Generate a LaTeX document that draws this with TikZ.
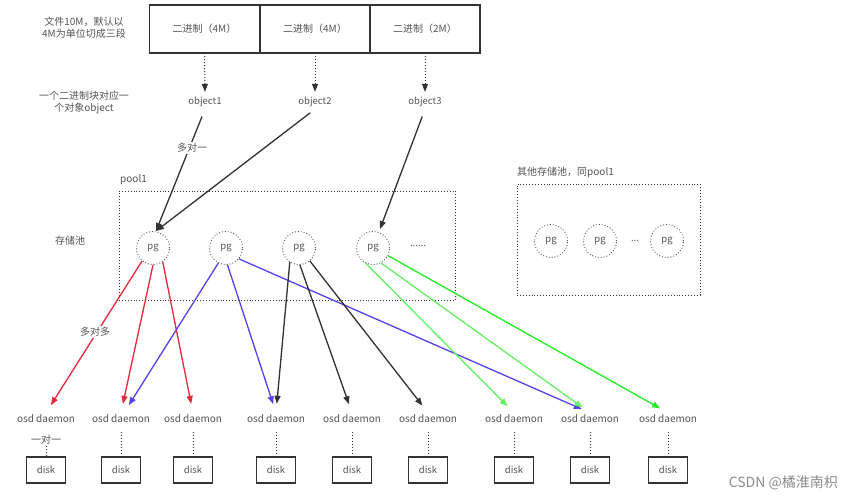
\documentclass[tikz,border=0pt]{standalone}
\usepackage{fontspec}
\setmainfont{Noto Sans CJK SC}
\usetikzlibrary{arrows.meta,calc}
\definecolor{txt}{HTML}{555555}
\definecolor{dk}{HTML}{333333}
\definecolor{rd}{HTML}{E8283C}
\definecolor{bl}{HTML}{5544EE}
\definecolor{gl}{HTML}{66F066}
\definecolor{gb}{HTML}{22EE22}
\tikzset{
  x=1pt,y=-1pt,
  lbl/.style={text=txt,font=\fontsize{10}{12}\selectfont,align=center,inner sep=1pt},
  obj/.style={text=txt,font=\fontsize{9.5}{11}\selectfont,inner sep=2pt},
  seg/.style={draw=dk,line width=1.3pt,minimum width=110pt,minimum height=48pt,outer sep=0pt,text=txt,font=\fontsize{10}{12}\selectfont},
  pgc/.style={circle,draw=txt,dotted,line width=0.9pt,minimum size=33pt,inner sep=0pt,text=txt,font=\fontsize{9.5}{11}\selectfont},
  poolbox/.style={draw=dk,dotted,line width=0.9pt,inner sep=0pt},
  osd/.style={text=txt,font=\fontsize{10}{12}\selectfont,inner sep=2pt},
  diskbox/.style={draw=dk,line width=1.2pt,minimum width=39pt,minimum height=26pt,inner sep=0pt,text=txt,font=\fontsize{9.5}{11}\selectfont},
  tip/.style={-{Triangle[length=8pt,width=6pt]}},
  dotarrow/.style={tip,draw=dk,dotted,line width=1pt},
  link/.style={tip,line width=1.3pt,shorten >=9pt},
  conn/.style={draw=dk,dotted,line width=1pt},
}
\begin{document}
\begin{tikzpicture}
\useasboundingbox[fill=white] (0,0) rectangle (852,501);
% file segments
\node[seg] (b1) at (204.5,29) {二进制（4M）};
\node[seg] (b2) at (315,29) {二进制（4M）};
\node[seg] (b3) at (425,29) {二进制（2M）};
\node[lbl] (t1) at (84,28) {文件10M，默认以\\4M为单位切成三段};
\node[lbl] (t2) at (84,102) {一个二进制块对应一\\个对象object};
% objects
\node[obj] (o1) at (205,102) {object1};
\node[obj] (o2) at (315,102) {object2};
\node[obj] (o3) at (425,102) {object3};
\draw[dotarrow,shorten >=3pt] (b1.south) -- (o1.north);
\draw[dotarrow,shorten >=3pt] (b2.south) -- (o2.north);
\draw[dotarrow,shorten >=3pt] (b3.south) -- (o3.north);
% pool1
\node[poolbox,minimum width=336pt,minimum height=109pt] (pool1) at (287,245.5) {};
\node[lbl,anchor=west] (pl) at (119,180) {pool1};
\node[lbl] (cc) at (70,241) {存储池};
\node[pgc] (p1) at (153,248) {pg};
\node[pgc] (p2) at (226,248) {pg};
\node[pgc] (p3) at (299,248) {pg};
\node[pgc] (p4) at (373,248) {pg};
\node[obj] (pd) at (418,246) {......};
% object -> pg
\draw[tip,draw=dk,fill=dk,line width=1.3pt,shorten <=8pt] (o1.south) -- ($(p1.north)+(3,0)$);
\draw[tip,draw=dk,fill=dk,line width=1.3pt,shorten <=6pt] (o2.south) -- ($(p1.north)+(3,0)$);
\draw[tip,draw=dk,fill=dk,line width=1.3pt,shorten <=8pt] (o3.south) -- ($(p4.north)+(7,-2)$);
\node[lbl,fill=white] (m1) at (192,148) {多对一};
% other pool
\node[poolbox,minimum width=183pt,minimum height=111pt] (pool2) at (608.5,239.5) {};
\node[lbl,anchor=west] (ol) at (516,172) {其他存储池，同pool1};
\node[pgc] (q1) at (551,241) {pg};
\node[pgc] (q2) at (600,241) {pg};
\node[obj] (qd) at (635,241) {...};
\node[pgc] (q3) at (667,241) {pg};
% osd daemons
\foreach \i/\x in {1/46,2/121,3/193,4/276,5/352,6/428,7/514,8/590,9/668}{
  \node[osd] (d\i) at (\x,419) {osd daemon};
  \node[diskbox] (k\i) at (\x,470) {disk};
}
\foreach \i in {2,...,9}{\draw[conn,shorten <=7pt] (d\i.south) -- (k\i.north);}
\node[lbl] (one) at (46,440) {一对一};
\draw[conn] (one.south) -- (k1.north);
% pg -> osd
\draw[link,rd,fill=rd] (p1.-130) -- (d1.north);
\draw[link,rd,fill=rd] (p1.south) -- (d2.north);
\draw[link,rd,fill=rd] (p1.-55) -- (d3.north);
\draw[link,bl,fill=bl] (p2.-117) -- ($(d2.north)+(3,0)$);
\draw[link,bl,fill=bl] (p2.-85) -- (d4.north);
\draw[link,bl,fill=bl] (p2.-40) -- (d8.north);
\draw[link,dk,fill=dk] (p3.-123) -- (d4.north);
\draw[link,dk,fill=dk] (p3.-87) -- (d5.north);
\draw[link,dk,fill=dk] (p3.-50) -- (d6.north);
\draw[link,gl,fill=gl] (p4.-115) -- (d7.north);
\draw[link,gl,fill=gl] (p4.-62) -- (d8.north);
\draw[link,gb,fill=gb] (p4.-27) -- (d9.north);
\node[lbl,fill=white] (m2) at (95,332) {多对多};
% watermark
\node[text=black!45,font=\fontsize{14}{16}\selectfont,anchor=east,inner sep=0pt] (wm) at (838,483) {CSDN @橘淮南枳};
\end{tikzpicture}
\end{document}
